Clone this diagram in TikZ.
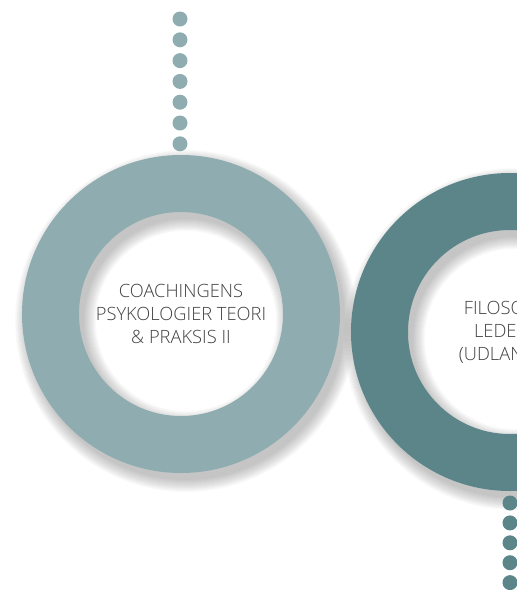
\documentclass[tikz,border=0pt]{standalone}
\usepackage{fontspec}
\IfFontExistsTF{Open Sans Light}{\setmainfont{Open Sans Light}}{\setmainfont{Open Sans}}
\usetikzlibrary{positioning}
\definecolor{paleteal}{HTML}{8FADB0}
\definecolor{deepteal}{HTML}{5B8588}
\definecolor{labelgray}{HTML}{404040}
\tikzset{
    ring/.style={circle, draw=#1, line width=57pt, minimum size=261pt, inner sep=0pt, align=center, text=labelgray, font=\fontsize{18.3}{23}\selectfont},
    stud/.style={circle, fill=#1, minimum size=15pt, inner sep=0pt},
    halo/.style={draw=black, opacity=0.02, line width=#1}
}
\begin{document}
\begin{tikzpicture}[x=1pt, y=-1pt, node distance=5.4pt]
    \useasboundingbox (0,0) rectangle (517,590);
    \clip (0,0) rectangle (517,590);

    \coordinate (coachc) at (181,314);
    \coordinate (filoc) at (510,332);

    % soft shadows under the rings
    \foreach \w in {57,59,...,81} {
        \draw [halo=\w pt] (186,321) circle (130.5pt);
        \draw [halo=\w pt] (515,339) circle (130.5pt);
    }

    \node (coach) [ring=paleteal] at (coachc) {COACHINGENS\\PSYKOLOGIER TEORI\\\& PRAKSIS II};
    \node (filo) [ring=deepteal] at (filoc) {FILOSOFI \&\\LEDELSE\\(UDLANDET)};

    % dotted line above the first ring
    \node (up1) [stud=paleteal] at (180,19) {};
    \foreach \i [remember=\i as \prev (initially 1)] in {2,...,7}
        \node (up\i) [stud=paleteal, below=of up\prev] {};

    % dotted line below the second ring
    \node (down1) [stud=deepteal] at (510,503) {};
    \foreach \i [remember=\i as \prev (initially 1)] in {2,...,5}
        \node (down\i) [stud=deepteal, below=4.5pt of down\prev] {};
\end{tikzpicture}
\end{document}
